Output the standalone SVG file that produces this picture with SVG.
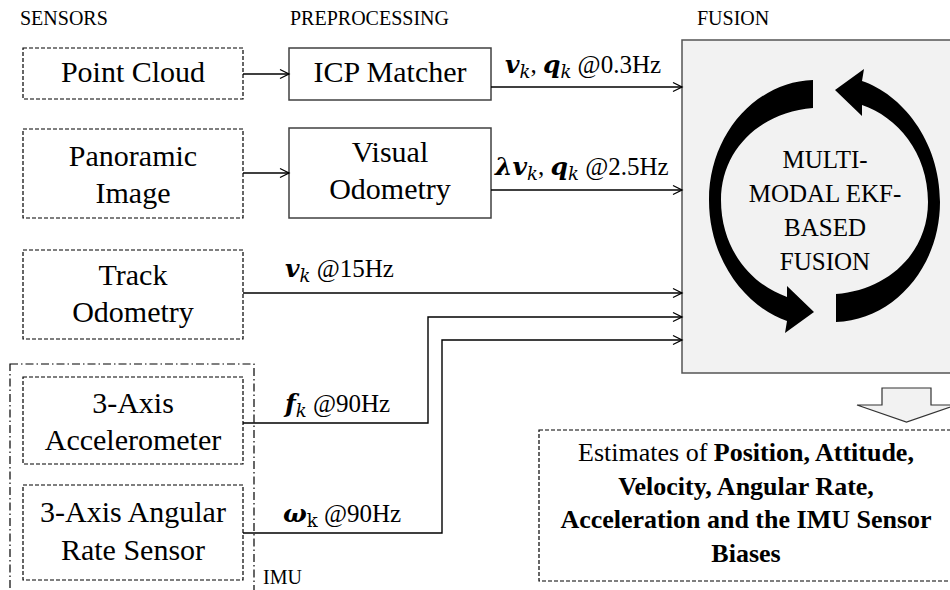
<svg xmlns="http://www.w3.org/2000/svg" width="950" height="590" viewBox="0 0 950 590">
  <style>
    text { font-family: "Liberation Serif", "Times New Roman", serif; fill: #000; }
    .hdr { font-size: 20px; }
    .big { font-size: 30px; text-anchor: middle; }
    .mid { font-size: 25px; text-anchor: middle; }
    .out { font-size: 26px; text-anchor: middle; }
    .lbl { font-size: 25px; }
    .m { font-family: "DejaVu Serif", serif; font-weight: bold; font-style: italic; font-size: 25px; }
    .mk { font-family: "DejaVu Serif", serif; font-style: italic; font-size: 18px; }
    .mku { font-family: "DejaVu Serif", serif; font-size: 18px; }
    .b { font-weight: bold; }
    .dash { fill: #fff; stroke: #000; stroke-width: 1.2; stroke-dasharray: 4 2; }
    .solid { fill: #fff; stroke: #404040; stroke-width: 1.5; }
    .imu { fill: none; stroke: #000; stroke-width: 1.2; stroke-dasharray: 8 3 1.5 3; }
    .wire { fill: none; stroke: #000; stroke-width: 1.4; }
  </style>
  <defs>
    <marker id="arr" markerWidth="12" markerHeight="12" refX="10" refY="6" orient="auto" markerUnits="userSpaceOnUse">
      <path d="M1,1.5 L10,6 L1,10.5" fill="none" stroke="#000" stroke-width="1.3"/>
    </marker>
  </defs>

  <rect width="950" height="590" fill="#fff"/>

  <!-- column headings -->
  <text class="hdr" x="20" y="25">SENSORS</text>
  <text class="hdr" x="290" y="25">PREPROCESSING</text>
  <text class="hdr" x="697" y="25">FUSION</text>

  <!-- fusion block with the circular loop arrows -->
  <g id="fusion">
    <rect x="682" y="40" width="275" height="333" fill="#f2f2f2" stroke="#555" stroke-width="1.5"/>
    <path id="loopL" fill="#000" d="M813,80 C755,82 709,135 709,200 C709,262 748,308 787,321 L785,333 L814,312 L787,286 L787,297 C752,285 721,250 721,200 C721,150 760,112 813,108 Z"/>
    <use href="#loopL" transform="rotate(180 824.5 201)"/>
    <text class="mid" x="825" y="168">MULTI-</text>
    <text class="mid" x="825" y="202">MODAL EKF-</text>
    <text class="mid" x="825" y="236">BASED</text>
    <text class="mid" x="825" y="270">FUSION</text>
  </g>

  <!-- sensors -->
  <g id="point-cloud">
    <rect class="dash" x="23" y="48" width="220" height="51"/>
    <text class="big" x="133" y="82">Point Cloud</text>
  </g>
  <g id="panoramic-image">
    <rect class="dash" x="23" y="129" width="220" height="89"/>
    <text class="big" x="133" y="166">Panoramic</text>
    <text class="big" x="133" y="203">Image</text>
  </g>
  <g id="track-odometry">
    <rect class="dash" x="23" y="250" width="220" height="89"/>
    <text class="big" x="133" y="285">Track</text>
    <text class="big" x="133" y="322">Odometry</text>
  </g>
  <g id="imu">
    <rect class="imu" x="10" y="364" width="244" height="240"/>
    <text class="hdr" x="263" y="584">IMU</text>
  </g>
  <g id="accelerometer">
    <rect class="dash" x="23" y="377" width="220" height="87"/>
    <text class="big" x="133" y="413">3-Axis</text>
    <text class="big" x="133" y="450">Accelerometer</text>
  </g>
  <g id="angular-rate">
    <rect class="dash" x="23" y="485" width="220" height="95"/>
    <text class="big" x="133" y="522">3-Axis Angular</text>
    <text class="big" x="133" y="560">Rate Sensor</text>
  </g>

  <!-- preprocessing -->
  <g id="icp-matcher">
    <rect class="solid" x="289" y="48" width="202" height="52"/>
    <text class="big" x="390" y="82">ICP Matcher</text>
  </g>
  <g id="visual-odometry">
    <rect class="solid" x="289" y="128" width="202" height="90"/>
    <text class="big" x="390" y="162">Visual</text>
    <text class="big" x="390" y="199">Odometry</text>
  </g>

  <!-- output -->
  <g id="estimates">
    <path d="M882,388 H931 V405 H956 L906.5,422 L857,405 H882 Z" fill="#f2f2f2" stroke="#333" stroke-width="1.2"/>
    <rect class="dash" x="539" y="430" width="420" height="151"/>
    <text class="out" x="746" y="461">Estimates of <tspan class="b">Position, Attitude,</tspan></text>
    <text class="out b" x="746" y="495">Velocity, Angular Rate,</text>
    <text class="out b" x="746" y="528">Acceleration and the IMU Sensor</text>
    <text class="out b" x="746" y="562">Biases</text>
  </g>

  <!-- connectors -->
  <g id="connectors">
    <path class="wire" d="M243,74 H289" marker-end="url(#arr)"/>
    <path class="wire" d="M243,173 H289" marker-end="url(#arr)"/>
    <path class="wire" d="M491,87 H682" marker-end="url(#arr)"/>
    <path class="wire" d="M491,190 H682" marker-end="url(#arr)"/>
    <path class="wire" d="M243,293 H682" marker-end="url(#arr)"/>
    <path class="wire" d="M243,423 H428 V317 H682" marker-end="url(#arr)"/>
    <path class="wire" d="M243,533 H442 V340 H682" marker-end="url(#arr)"/>

    <text class="lbl" x="505" y="73"><tspan class="m">v</tspan><tspan class="mk" dy="5">k</tspan><tspan dy="-5">, </tspan><tspan class="m">q</tspan><tspan class="mk" dy="5">k</tspan><tspan dy="-5"> @0.3Hz</tspan></text>
    <text class="lbl" x="495" y="175"><tspan class="m">λv</tspan><tspan class="mk" dy="5">k</tspan><tspan dy="-5">, </tspan><tspan class="m">q</tspan><tspan class="mk" dy="5">k</tspan><tspan dy="-5"> @2.5Hz</tspan></text>
    <text class="lbl" x="285" y="277"><tspan class="m">v</tspan><tspan class="mk" dy="5">k</tspan><tspan dy="-5"> @15Hz</tspan></text>
    <text class="lbl" x="285" y="412"><tspan class="m">f</tspan><tspan class="mk" dy="5">k</tspan><tspan dy="-5"> @90Hz</tspan></text>
    <text class="lbl" x="283" y="522"><tspan class="m">ω</tspan><tspan class="mku" dy="5">k</tspan><tspan dy="-5"> @90Hz</tspan></text>
  </g>
</svg>
